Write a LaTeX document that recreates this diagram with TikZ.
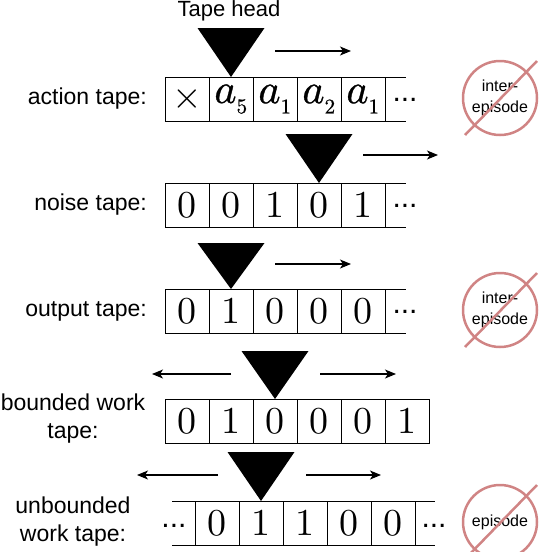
\documentclass[tikz,border=0pt]{standalone}
\usepackage{fontspec}
\usepackage{unicode-math}
\setmainfont{Liberation Sans}
\setmathfont{Latin Modern Math}
\setmathfont{Latin Modern Math}[version=heavy, FakeBold=0.8]
\usetikzlibrary{arrows.meta,positioning}
\definecolor{crossred}{RGB}{208,132,132}
\tikzset{
  cell/.style={rectangle, draw, line width=1pt, minimum size=44pt, inner sep=0pt,
               outer sep=0pt, font=\fontsize{38}{38}\selectfont},
  actcell/.style={cell, font=\fontsize{42}{42}\selectfont\mathversion{heavy}},
  lbl/.style={font=\fontsize{23}{28}\selectfont, align=center, inner sep=0pt},
  dots/.style={font=\fontsize{30}{30}\selectfont, inner sep=0pt, anchor=base},
  headtri/.style={fill=black},
  move/.style={-{Stealth[length=11pt,width=9pt,inset=3pt]}, line width=1.2pt},
  nope/.style={circle, draw=crossred, line width=2.5pt, minimum size=74pt,
               align=center, font=\fontsize{16}{21}\selectfont, inner sep=0pt},
  slash/.style={draw=crossred, line width=2.5pt}
}
\newcommand{\act}[1]{$a_{\scriptscriptstyle #1}$}

\begin{document}
\begin{tikzpicture}[x=1pt,y=-1pt]
  \useasboundingbox (0,0) rectangle (540,552);

  % tape head title
  \node[lbl, font=\fontsize{22}{22}\selectfont] (title) at (229,11) {Tape head};

  % action tape
  \node[lbl, anchor=east] (lact) at (147,99) {action tape:};
  \node[cell] (a1) at (187,99) {$\times$};
  \node[actcell, right=0pt of a1] (a2) {\act{5}};
  \node[actcell, right=0pt of a2] (a3) {\act{1}};
  \node[actcell, right=0pt of a3] (a4) {\act{2}};
  \node[actcell, right=0pt of a4] (a5) {\act{1}};
  \coordinate (aendt) at (406,77);
  \coordinate (aendb) at (406,121);
  \draw[line width=1pt] (a5.north east) -- (aendt);
  \draw[line width=1pt] (a5.south east) -- (aendb);
  \node[dots] (adots) at (405,101) {...};

  % noise tape
  \node[lbl, anchor=east] (lnoise) at (147,205) {noise tape:};
  \node[cell] (n1) at (187,205) {$0$};
  \node[cell, right=0pt of n1] (n2) {$0$};
  \node[cell, right=0pt of n2] (n3) {$1$};
  \node[cell, right=0pt of n3] (n4) {$0$};
  \node[cell, right=0pt of n4] (n5) {$1$};
  \coordinate (nendt) at (406,183);
  \coordinate (nendb) at (406,227);
  \draw[line width=1pt] (n5.north east) -- (nendt);
  \draw[line width=1pt] (n5.south east) -- (nendb);
  \node[dots] (ndots) at (405,207) {...};

  % output tape
  \node[lbl, anchor=east] (lout) at (147,311) {output tape:};
  \node[cell] (o1) at (187,311) {$0$};
  \node[cell, right=0pt of o1] (o2) {$1$};
  \node[cell, right=0pt of o2] (o3) {$0$};
  \node[cell, right=0pt of o3] (o4) {$0$};
  \node[cell, right=0pt of o4] (o5) {$0$};
  \coordinate (oendt) at (406,289);
  \coordinate (oendb) at (406,333);
  \draw[line width=1pt] (o5.north east) -- (oendt);
  \draw[line width=1pt] (o5.south east) -- (oendb);
  \node[dots] (odots) at (405,313) {...};

  % bounded work tape
  \node[lbl] (lbound) at (73,419) {bounded work\\tape:};
  \node[cell] (b1) at (187,421) {$0$};
  \node[cell, right=0pt of b1] (b2) {$1$};
  \node[cell, right=0pt of b2] (b3) {$0$};
  \node[cell, right=0pt of b3] (b4) {$0$};
  \node[cell, right=0pt of b4] (b5) {$0$};
  \node[cell, right=0pt of b5] (b6) {$1$};

  % unbounded work tape
  \node[lbl] (lunb) at (73,522) {unbounded\\work tape:};
  \node[cell] (u1) at (217,523) {$0$};
  \node[cell, right=0pt of u1] (u2) {$1$};
  \node[cell, right=0pt of u2] (u3) {$1$};
  \node[cell, right=0pt of u3] (u4) {$0$};
  \node[cell, right=0pt of u4] (u5) {$0$};
  \coordinate (ulendt) at (172,501);
  \coordinate (ulendb) at (172,545);
  \coordinate (urendt) at (435,501);
  \coordinate (urendb) at (435,545);
  \draw[line width=1pt] (u1.north west) -- (ulendt);
  \draw[line width=1pt] (u1.south west) -- (ulendb);
  \draw[line width=1pt] (u5.north east) -- (urendt);
  \draw[line width=1pt] (u5.south east) -- (urendb);
  \node[dots] (uldots) at (174,527) {...};
  \node[dots] (urdots) at (434,527) {...};

  % tape heads
  \fill[headtri] (a2.north) -- ++(-33.5,-49) -- ++(67,0) -- cycle;
  \fill[headtri] (n4.north) -- ++(-33.5,-49) -- ++(67,0) -- cycle;
  \fill[headtri] (o2.north) -- ++(-33.5,-46) -- ++(67,0) -- cycle;
  \fill[headtri] (b3.north) -- ++(-33.5,-48) -- ++(67,0) -- cycle;
  \fill[headtri] (u2.north) -- ++(-33.5,-49) -- ++(67,0) -- cycle;

  % head moves
  \coordinate (m1s) at (275,51);  \coordinate (m1e) at (351,51);
  \coordinate (m2s) at (363,155); \coordinate (m2e) at (438,155);
  \coordinate (m3s) at (275,264); \coordinate (m3e) at (351,264);
  \coordinate (m4ls) at (231,374); \coordinate (m4le) at (152,374);
  \coordinate (m4rs) at (320,374); \coordinate (m4re) at (396,374);
  \coordinate (m5ls) at (218,475); \coordinate (m5le) at (137,475);
  \coordinate (m5rs) at (306,475); \coordinate (m5re) at (381,475);
  \draw[move] (m1s) -- (m1e);
  \draw[move] (m2s) -- (m2e);
  \draw[move] (m3s) -- (m3e);
  \draw[move] (m4ls) -- (m4le);
  \draw[move] (m4rs) -- (m4re);
  \draw[move] (m5ls) -- (m5le);
  \draw[move] (m5rs) -- (m5re);

  % persistence marks
  \node[nope] (p1) at (500,98) {inter-\\episode};
  \node[nope] (p2) at (500,310) {inter-\\episode};
  \node[nope] (p3) at (500,522) {episode};
  \draw[slash] ([shift={(-35,37)}]p1.center) -- ([shift={(37,-37)}]p1.center);
  \draw[slash] ([shift={(-35,37)}]p2.center) -- ([shift={(37,-37)}]p2.center);
  \draw[slash] ([shift={(-35,37)}]p3.center) -- ([shift={(37,-37)}]p3.center);
\end{tikzpicture}
\end{document}
